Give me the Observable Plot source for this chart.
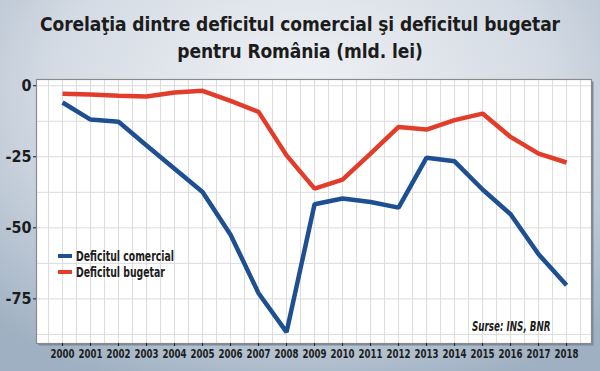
<!DOCTYPE html>
<html><head><meta charset="utf-8">
<script src="https://cdn.jsdelivr.net/npm/d3@7"></script>
<script src="https://cdn.jsdelivr.net/npm/@observablehq/plot@0.6"></script>
<style>
body{margin:0;}
#wrap{position:relative;width:600px;height:371px;overflow:hidden;
 background:radial-gradient(ellipse 75% 85% at 50% 25%, #f0f2f5 0%, #d4dbe4 55%, #9fb0c2 100%);
 font-family:"DejaVu Sans Condensed","Liberation Sans Narrow",sans-serif;color:#1c1c1c;}
#title{height:72px;margin:0;text-align:center;font-weight:bold;font-size:19px;line-height:27px;padding-top:11px;box-sizing:border-box;letter-spacing:-0.1px;}
#chart{position:absolute;left:0;top:72px;}
.leg{position:absolute;left:58px;font-weight:bold;font-size:14px;line-height:16px;white-space:nowrap;}
.leg span{display:inline-block;width:14px;height:4px;vertical-align:middle;margin-right:4px;position:relative;top:-1px;}
.leg i{font-style:normal;display:inline-block;transform:scaleX(0.74);transform-origin:left center;}
#src{position:absolute;left:472px;top:318px;font-weight:bold;font-style:italic;font-size:13.5px;white-space:nowrap;transform:scaleX(0.72);transform-origin:left center;}
</style></head>
<body>
<div id="wrap">
 <div id="title">Corelaţia dintre deficitul comercial şi deficitul bugetar<br>pentru România (mld. lei)</div>
 <div id="chart"></div>
 <div class="leg" style="top:248px"><span style="background:#1d4f91"></span><i>Deficitul comercial</i></div>
 <div class="leg" style="top:264px"><span style="background:#e23c2b"></span><i>Deficitul bugetar</i></div>
 <div id="src">Surse: INS, BNR</div>
</div>
<script>
const years = [2000,2001,2002,2003,2004,2005,2006,2007,2008,2009,2010,2011,2012,2013,2014,2015,2016,2017,2018];
const comercial = [-5.9,-11.9,-12.7,-21.0,-29.2,-37.4,-52.4,-73.0,-86.7,-41.7,-39.7,-40.9,-42.9,-25.3,-26.6,-36.5,-45.2,-59.3,-70.2];
const bugetar = [-2.8,-3.1,-3.5,-3.8,-2.4,-1.8,-5.3,-9.2,-24.5,-36.2,-33.0,-23.9,-14.5,-15.4,-12.1,-9.8,-18.0,-23.9,-27.0];
const yTicks = [0,-25,-50,-75];
const seriesNames = ["Deficitul comercial","Deficitul bugetar"];
const colors = ["#1d4f91","#e23c2b"];

const data = [];
years.forEach((y,i)=>{
  data.push({year:y, value:comercial[i], serie:seriesNames[0]});
  data.push({year:y, value:bugetar[i], serie:seriesNames[1]});
});
const xGrid = d3.range(1999.5, 2019, 0.5);
const yGrid = d3.range(-87.5, 0.1, 12.5);

const chart = Plot.plot({
  width:600, height:299,
  marginTop:7, marginBottom:28, marginLeft:36, marginRight:9,
  style:{background:"transparent", fontFamily:"'DejaVu Sans Condensed','Liberation Sans Narrow',sans-serif", color:"#1c1c1c"},
  x:{domain:[1999.07, 2018.89], label:null},
  y:{domain:[-90.7, 2.2], label:null},
  color:{domain:seriesNames, range:colors},
  marks:[
    Plot.frame({fill:"#7d8a98", dx:2, dy:2}),
    Plot.frame({fill:"white"}),
    Plot.ruleX(xGrid, {stroke:"#dcdcdc", strokeWidth:1}),
    Plot.ruleY(yGrid, {stroke:"#dcdcdc", strokeWidth:1}),
    Plot.frame({stroke:"#8a8a8a", strokeWidth:1.2}),
    Plot.line(data, {x:"year", y:"value", stroke:"serie", z:"serie", strokeWidth:4.5, strokeLinejoin:"miter", strokeLinecap:"butt"}),
    Plot.axisX({ticks:years, tickFormat:d=>String(d), tickSize:3, tickPadding:3, fontSize:11.5, fontWeight:"bold"}),
    Plot.axisY({ticks:yTicks, tickFormat:d=>String(d), tickSize:3, tickPadding:2, fontSize:16, fontWeight:"bold"})
  ]
});
document.getElementById("chart").appendChild(chart);
chart.querySelectorAll('g[aria-label="x-axis tick label"] text').forEach(t=>{
  t.setAttribute("textLength","24");
  t.setAttribute("lengthAdjust","spacingAndGlyphs");
});
</script>
</body></html>
